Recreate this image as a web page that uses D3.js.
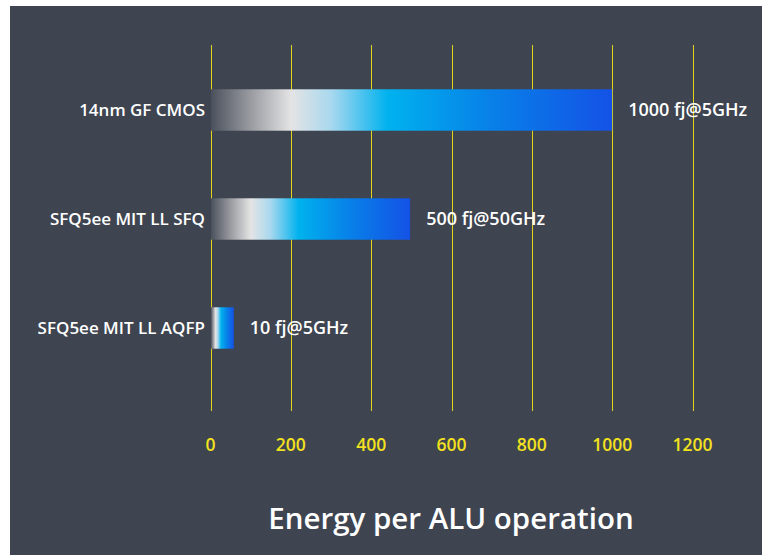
<!DOCTYPE html>
<html><head><meta charset="utf-8">
<script src="https://cdn.jsdelivr.net/npm/d3@7"></script>
<style>body{margin:0;background:#fff}svg{display:block}</style>
</head><body>
<svg id="c" width="762" height="555"></svg>
<script>
const categories = ["14nm GF CMOS", "SFQ5ee MIT LL SFQ", "SFQ5ee MIT LL AQFP"];
const values = [1000, 497, 58];
const valueLabels = ["1000 fj@5GHz", "500 fj@50GHz", "10 fj@5GHz"];
const ticks = [0, 200, 400, 600, 800, 1000, 1200];
const title = "Energy per ALU operation";

const svg = d3.select("#c");
svg.append("rect").attr("x",10).attr("y",6).attr("width",752).attr("height",549).attr("fill","#3e4450");

const defs = svg.append("defs");
const g = defs.append("linearGradient").attr("id","bg").attr("x1","0").attr("x2","1").attr("y1","0").attr("y2","0");
[[0,"#4b515c"],[0.1,"#9a9ca2"],[0.2,"#e4e4e4"],[0.3,"#a8d8ef"],[0.44,"#00b2ee"],[0.7,"#0880e8"],[1,"#1452e6"]]
  .forEach(([o,c])=>g.append("stop").attr("offset",o).attr("stop-color",c));

const x = d3.scaleLinear().domain([0,1200]).range([210.5,692.5]);
const y = d3.scaleBand().domain(categories).range([55.5,382.5]).paddingInner(0.62).paddingOuter(0.31);

const font = "'Open Sans', Lato, sans-serif";

svg.append("g").selectAll("line").data(ticks).join("line")
  .attr("x1",d=>Math.round(x(d))+0.5).attr("x2",d=>Math.round(x(d))+0.5)
  .attr("y1",45).attr("y2",411)
  .attr("stroke","#e3d21a").attr("stroke-width",1);

svg.append("g").selectAll("text").data(ticks).join("text")
  .attr("x",d=>x(d)).attr("y",451).attr("text-anchor","middle")
  .attr("fill","#f2e21e").attr("font-family",font).attr("font-weight",600).attr("font-size",17.5)
  .text(d=>d);

svg.append("g").selectAll("rect").data(categories).join("rect")
  .attr("x",x(0)+0.5).attr("y",d=>y(d)).attr("height",y.bandwidth())
  .attr("width",(d,i)=>x(values[i])-x(0)-0.5)
  .attr("fill","url(#bg)");

svg.append("g").selectAll("text").data(categories).join("text")
  .attr("x",205).attr("y",d=>y(d)+y.bandwidth()/2).attr("dy","0.36em").attr("text-anchor","end")
  .attr("fill","#ffffff").attr("font-family",font).attr("font-weight",600).attr("font-size",17)
  .text(d=>d);

svg.append("g").selectAll("text").data(categories).join("text")
  .attr("x",(d,i)=>x(values[i])+16).attr("y",d=>y(d)+y.bandwidth()/2).attr("dy","0.36em")
  .attr("fill","#ffffff").attr("font-family",font).attr("font-weight",600).attr("font-size",18)
  .text((d,i)=>valueLabels[i]);

svg.append("text").attr("x",451).attr("y",529).attr("text-anchor","middle")
  .attr("fill","#ffffff").attr("font-family",font).attr("font-weight",600).attr("font-size",29.5)
  .text(title);
</script>
</body></html>
